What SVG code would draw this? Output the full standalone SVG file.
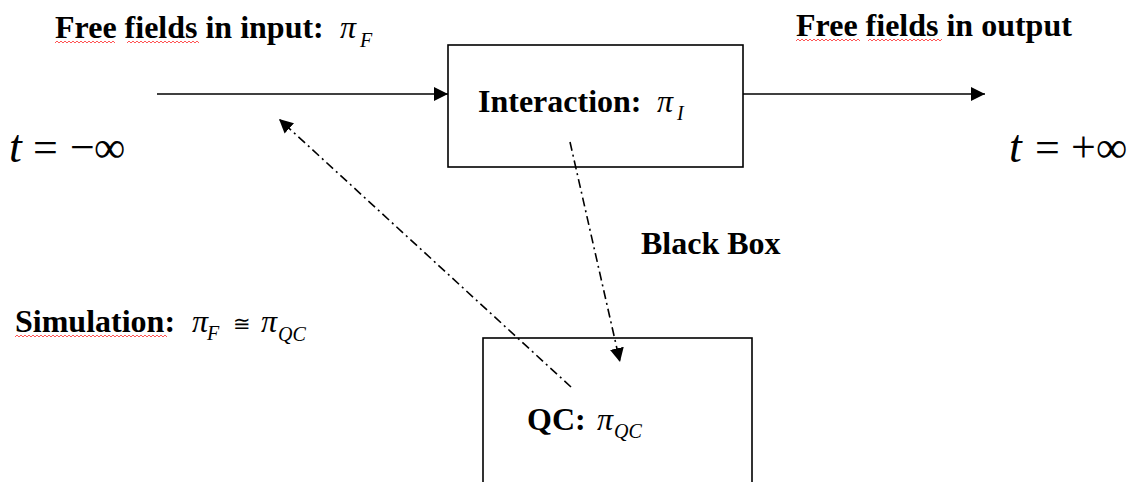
<svg xmlns="http://www.w3.org/2000/svg" width="1133" height="482" viewBox="0 0 1133 482">
<style>
.b{font-family:"Liberation Serif","Times New Roman",serif;font-weight:bold;font-size:32px;fill:#000}
.m{font-family:"Liberation Serif","Times New Roman",serif;font-style:italic;font-size:32px;fill:#000}
.s{font-family:"Liberation Serif","Times New Roman",serif;font-style:italic;font-size:20px;fill:#000}
.t{font-family:"Liberation Serif","Times New Roman",serif;font-size:44px;fill:#000}
.ti{font-family:"Liberation Serif","Times New Roman",serif;font-style:italic;font-size:46px;fill:#000}
.box{fill:none;stroke:#000;stroke-width:1.6}
.ln{stroke:#000;stroke-width:1.6;fill:none}
.dd{stroke:#000;stroke-width:1.6;fill:none;stroke-dasharray:9 4 2 4}
.sq{stroke:#f55;stroke-width:1;fill:none}
</style>
<defs>
<marker id="ah2" viewBox="0 0 10 10" refX="10" refY="5" markerWidth="14" markerHeight="14" markerUnits="userSpaceOnUse" orient="auto">
<path d="M0,0 L10,5 L0,10 z" fill="#000"/>
</marker>
</defs>
<rect width="1133" height="482" fill="#fff"/>

<g id="connectors">
<line class="ln" x1="157" y1="94" x2="448" y2="94" marker-end="url(#ah2)"/>
<line class="ln" x1="743" y1="94" x2="985" y2="94" marker-end="url(#ah2)"/>
<line class="dd" x1="571" y1="387" x2="279" y2="119" marker-end="url(#ah2)"/>
<line class="dd" x1="570" y1="142" x2="620" y2="362" marker-end="url(#ah2)"/>
</g>

<g id="interaction">
<rect class="box" x="448" y="45" width="295" height="122"/>
<text class="b" x="478" y="112">Interaction:</text>
<text class="m" x="657" y="112">π</text>
<text class="s" x="677" y="120">I</text>
</g>

<g id="qc">
<rect class="box" x="483" y="338" width="269" height="160"/>
<text class="b" x="527" y="430">QC:</text>
<text class="m" x="597" y="430">π</text>
<text class="s" x="614" y="438">QC</text>
</g>

<g id="input-label">
<text class="b" x="55" y="38">Free fields in input:</text>
<text class="m" x="340" y="38">π</text>
<text class="s" x="360" y="47">F</text>
<path class="sq" d="M55,43 l2,-2 l2,2 l2,-2 l2,2 l2,-2 l2,2 l2,-2 l2,2 l2,-2 l2,2 l2,-2 l2,2 l2,-2 l2,2 l2,-2 l2,2 l2,-2 l2,2 l2,-2 l2,2 l2,-2 l2,2 l2,-2 l2,2 l2,-2 l2,2 l2,-2 l2,2 l2,-2 l2,2"/>
<path class="sq" d="M127,43 l2,-2 l2,2 l2,-2 l2,2 l2,-2 l2,2 l2,-2 l2,2 l2,-2 l2,2 l2,-2 l2,2 l2,-2 l2,2 l2,-2 l2,2 l2,-2 l2,2 l2,-2 l2,2 l2,-2 l2,2 l2,-2 l2,2 l2,-2 l2,2 l2,-2 l2,2 l2,-2 l2,2 l2,-2 l2,2 l2,-2 l2,2 l2,-2 l2,2"/>
</g>

<g id="output-label">
<text class="b" x="796" y="36">Free fields in output</text>
<path class="sq" d="M796,41 l2,-2 l2,2 l2,-2 l2,2 l2,-2 l2,2 l2,-2 l2,2 l2,-2 l2,2 l2,-2 l2,2 l2,-2 l2,2 l2,-2 l2,2 l2,-2 l2,2 l2,-2 l2,2 l2,-2 l2,2 l2,-2 l2,2 l2,-2 l2,2 l2,-2 l2,2 l2,-2 l2,2 l2,-2 l2,2"/>
<path class="sq" d="M868,41 l2,-2 l2,2 l2,-2 l2,2 l2,-2 l2,2 l2,-2 l2,2 l2,-2 l2,2 l2,-2 l2,2 l2,-2 l2,2 l2,-2 l2,2 l2,-2 l2,2 l2,-2 l2,2 l2,-2 l2,2 l2,-2 l2,2 l2,-2 l2,2 l2,-2 l2,2 l2,-2 l2,2 l2,-2 l2,2 l2,-2 l2,2 l2,-2 l2,2 l2,-2"/>
</g>

<g id="t-minus">
<text class="ti" x="9" y="162">t</text>
<text class="t" x="33" y="162">=</text>
<text class="t" x="70" y="162">−</text>
<text class="t" x="94" y="162" font-size="40">∞</text>
</g>

<g id="t-plus">
<text class="ti" x="1009" y="162">t</text>
<text class="t" x="1035" y="162">=</text>
<text class="t" x="1071" y="162">+</text>
<text class="t" x="1096" y="162" font-size="40">∞</text>
</g>

<g id="black-box-label">
<text class="b" x="641" y="254">Black Box</text>
</g>

<g id="simulation-label">
<text class="b" x="15" y="332">Simulation:</text>
<text class="m" x="192" y="332">π</text>
<text class="s" x="207" y="340">F</text>
<text x="233" y="331" font-family="Liberation Serif, serif" font-size="21" fill="#000">≅</text>
<text class="m" x="261" y="332">π</text>
<text class="s" x="278" y="341">QC</text>
<path class="sq" d="M15,337 l2,-2 l2,2 l2,-2 l2,2 l2,-2 l2,2 l2,-2 l2,2 l2,-2 l2,2 l2,-2 l2,2 l2,-2 l2,2 l2,-2 l2,2 l2,-2 l2,2 l2,-2 l2,2 l2,-2 l2,2 l2,-2 l2,2 l2,-2 l2,2 l2,-2 l2,2 l2,-2 l2,2 l2,-2 l2,2 l2,-2 l2,2 l2,-2 l2,2 l2,-2 l2,2 l2,-2 l2,2 l2,-2 l2,2 l2,-2 l2,2 l2,-2 l2,2 l2,-2 l2,2 l2,-2 l2,2 l2,-2 l2,2 l2,-2 l2,2 l2,-2 l2,2 l2,-2 l2,2 l2,-2 l2,2 l2,-2 l2,2 l2,-2 l2,2 l2,-2 l2,2 l2,-2 l2,2 l2,-2 l2,2 l2,-2 l2,2 l2,-2 l2,2 l2,-2 l2,2"/>
</g>
</svg>
